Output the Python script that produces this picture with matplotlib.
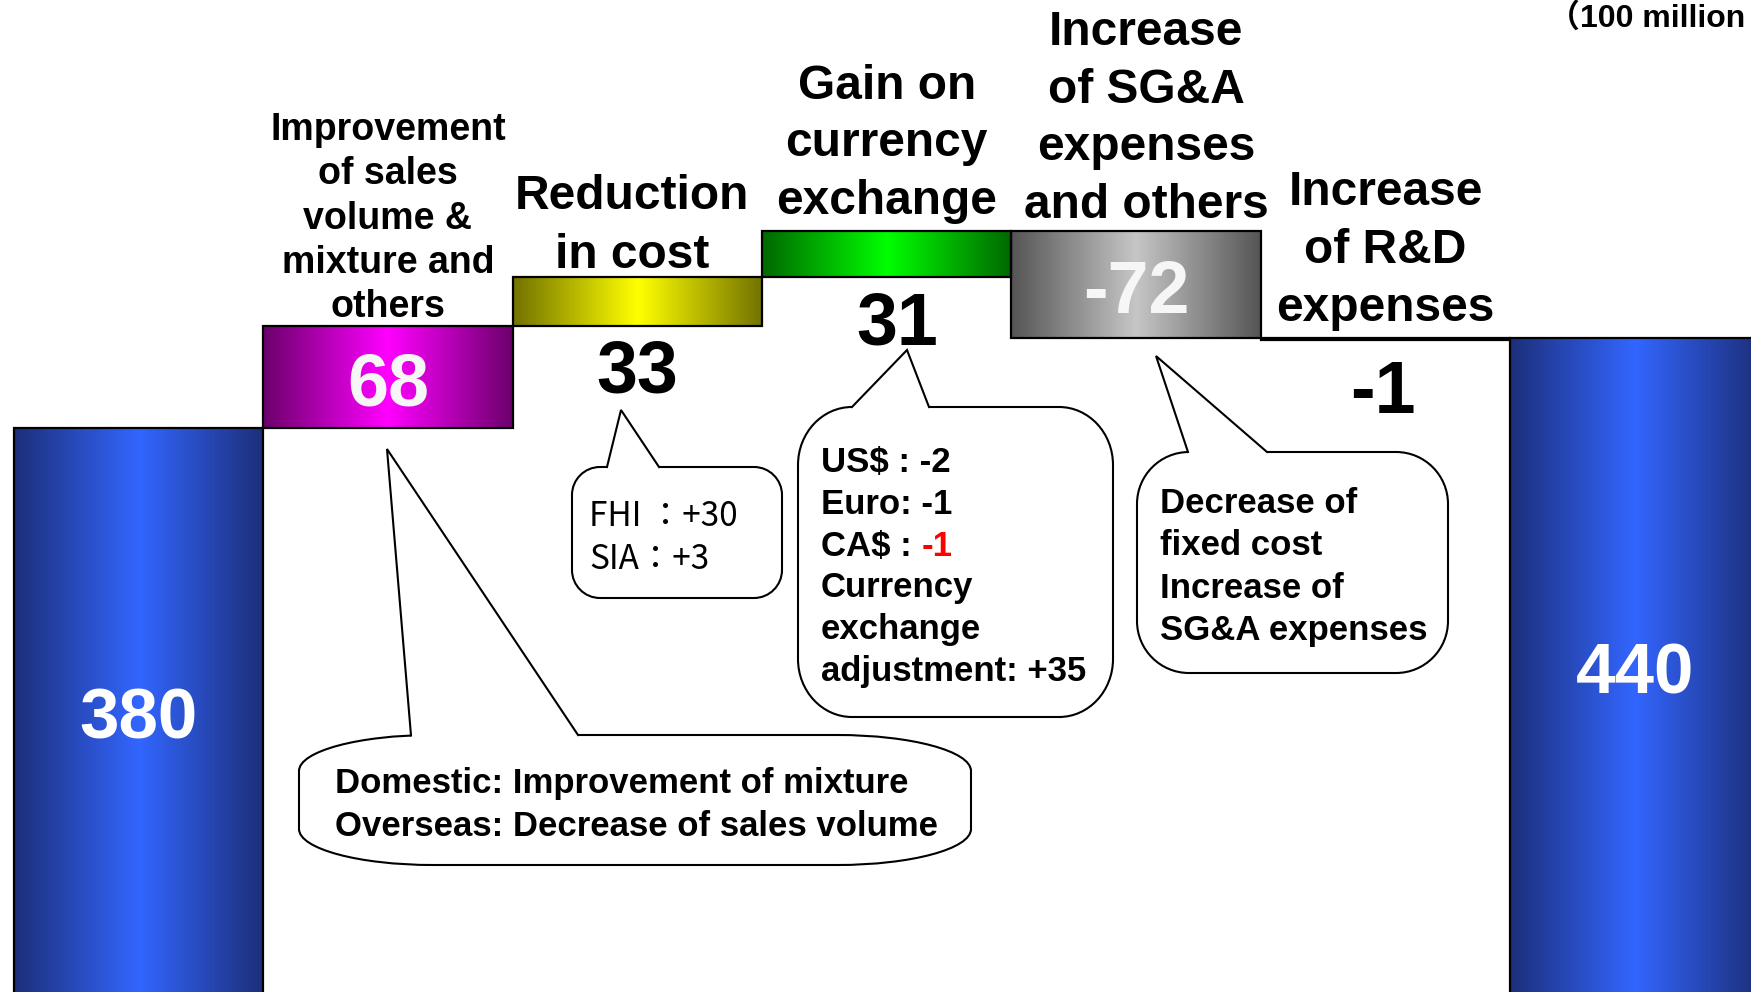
import numpy as np
import matplotlib
matplotlib.use('Agg')
import matplotlib.pyplot as plt
from matplotlib.patches import Rectangle, PathPatch, Polygon
from matplotlib.path import Path
from matplotlib.colors import LinearSegmentedColormap

# operating income bridge, in 100 million yen
categories = ['', 'Improvement\nof sales\nvolume &\nmixture and\nothers', 'Reduction\nin cost',
              'Gain on\ncurrency\nexchange', 'Increase\nof SG&A\nexpenses\nand others',
              'Increase\nof R&D\nexpenses', '']
values = [380, 68, 33, 31, -72, -1, 440]
value_labels = ['380', '68', '33', '31', '-72', '-1', '440']
is_total = [True, False, False, False, False, False, True]

edge_colors = ['#1c2f7a', '#6c006c', '#727200', '#006800', '#555555', '#555555', '#1c2f7a']
mid_colors = ['#3366ff', '#ff00ff', '#ffff00', '#00ff00', '#c6c6c6', '#c6c6c6', '#3366ff']

note_sales = 'Domestic: Improvement of mixture\nOverseas: Decrease of sales volume'
note_cost = 'FHI ：+30\nSIA：+3'
note_fx = ['US$ : -2', 'Euro: -1', 'CA$ : ', 'Currency', 'exchange', 'adjustment: +35']
note_fx_red = '-1'
note_sga = 'Decrease of\nfixed cost\nIncrease of\nSG&A expenses'
unit_text = '（100 million'

plt.rcParams['font.family'] = ['Liberation Sans', 'Noto Sans CJK JP', 'DejaVu Sans']

W, H = 1751, 992
fig = plt.figure(figsize=(W / 100, H / 100), dpi=100)
fig.patch.set_facecolor('white')

ax = fig.add_axes([0, 0, 1, 1])
ax.axis('off')

# running totals for the waterfall
lows, highs = [], []
running = 0
for v, tot in zip(values, is_total):
    if tot:
        lo, hi = 0, v
        running = v
    else:
        lo, hi = sorted((running, running + v))
        running += v
    lows.append(lo)
    highs.append(hi)

grad = np.linspace(0, 1, 256)[None, :]
for i in range(len(values)):
    cmap = LinearSegmentedColormap.from_list('g%d' % i, [edge_colors[i], mid_colors[i], edge_colors[i]])
    rect = Rectangle((i - 0.5, lows[i]), 1, highs[i] - lows[i], fill=False,
                     edgecolor='black', lw=1.6, zorder=3)
    ax.add_patch(rect)
    im = ax.imshow(grad, extent=(i - 0.5, i + 0.5, lows[i], highs[i]), aspect='auto',
                   cmap=cmap, interpolation='bilinear', zorder=2)
    im.set_clip_path(rect)

ax.set_xlim(-0.5553, 6.465)
ax.set_ylim(1.0, 667.2)

# value labels: inside the big bars, under the small steps
nudge = {3: (10, -1), 5: (-3, -7)}
for i, txt in enumerate(value_labels):
    dx, dy = nudge.get(i, (0, 0))
    if is_total[i]:
        ax.annotate(txt, xy=(i, (lows[i] + highs[i]) / 2), xytext=(dx, -28 + dy),
                    textcoords='offset pixels', ha='center', va='baseline',
                    color='white', fontsize=51, fontweight='bold', zorder=5)
    elif abs(values[i]) > 50:
        ax.annotate(txt, xy=(i, (lows[i] + highs[i]) / 2), xytext=(dx, -28.5 + dy),
                    textcoords='offset pixels', ha='center', va='baseline',
                    color='#f6f6f6', fontsize=53, fontweight='bold', zorder=5)
    else:
        ax.annotate(txt, xy=(i, lows[i]), xytext=(dx, -66 + dy),
                    textcoords='offset pixels', ha='center', va='baseline',
                    color='black', fontsize=53, fontweight='bold', zorder=5)

# category headings above each step
label_size = [0, 27, 34.5, 34.5, 34.5, 34.5, 0]
label_ls = [0, 1.30, 1.42, 1.36, 1.36, 1.37, 0]
label_dx = [0, 0, -5, 0, 10, 0, 0]
label_gap = [0, 1, -1, 7, 3, 7, 0]
for i, lab in enumerate(categories):
    if not lab:
        continue
    ax.annotate(lab, xy=(i, highs[i]), xytext=(label_dx[i], label_gap[i]), textcoords='offset pixels',
                ha='center', va='bottom', multialignment='center', linespacing=label_ls[i],
                fontsize=label_size[i], fontweight='bold', color='black', zorder=5)

# overlay in pixel units for the speech bubbles
ov = fig.add_axes([0, 0, 1, 1])
ov.set_xlim(0, W)
ov.set_ylim(H, 0)
ov.axis('off')
ov.patch.set_alpha(0)

K = 0.5523


def bubble(a, x0, y0, x1, y1, rx, ry, tip, base):
    verts = [(x0 + rx, y0), (x1 - rx, y0),
             (x1 - rx + K * rx, y0), (x1, y0 + ry - K * ry), (x1, y0 + ry),
             (x1, y1 - ry),
             (x1, y1 - ry + K * ry), (x1 - rx + K * rx, y1), (x1 - rx, y1),
             (x0 + rx, y1),
             (x0 + rx - K * rx, y1), (x0, y1 - ry + K * ry), (x0, y1 - ry),
             (x0, y0 + ry),
             (x0, y0 + ry - K * ry), (x0 + rx - K * rx, y0), (x0 + rx, y0),
             (x0 + rx, y0)]
    codes = ([Path.MOVETO, Path.LINETO] + [Path.CURVE4] * 3 + [Path.LINETO] + [Path.CURVE4] * 3
             + [Path.LINETO] + [Path.CURVE4] * 3 + [Path.LINETO] + [Path.CURVE4] * 3 + [Path.CLOSEPOLY])
    a.add_patch(PathPatch(Path(verts, codes), fc='white', ec='black', lw=1.5, zorder=2))

    def top_y(x):
        if x < x0 + rx:
            t = (x0 + rx - x) / rx
        elif x > x1 - rx:
            t = (x - (x1 - rx)) / rx
        else:
            return y0
        return y0 + ry * (1 - np.sqrt(max(0.0, 1 - t * t)))

    b0, b1 = base
    y_0, y_1 = top_y(b0), top_y(b1)
    a.add_patch(Polygon([(b0, y_0 + 5), (b0, y_0), tip, (b1, y_1), (b1, y_1 + 5)],
                        closed=True, fc='white', ec='none', zorder=3))
    a.plot([b0, tip[0], b1], [y_0, tip[1], y_1], color='black', lw=1.5, zorder=4,
           solid_joinstyle='miter')


bubble(ov, 299, 735, 971, 865, 134, 36, (387, 449), (411, 578))
bubble(ov, 572, 467, 782, 598, 28, 28, (621, 410), (607, 659))
bubble(ov, 798, 407, 1113, 717, 54, 58, (907, 350), (852, 929))
bubble(ov, 1137, 452, 1448, 673, 52, 52, (1156, 356), (1188, 1267))

note_font = dict(fontsize=25, fontweight='bold', color='black', zorder=6, linespacing=1.36)
ov.text(335, 805, note_sales, ha='left', va='center', **note_font)
ov.text(1160, 567, note_sga, ha='left', va='center', **note_font)
ov.text(589, 538, note_cost, ha='left', va='center', fontsize=24, color='black', zorder=6,
        linespacing=1.28, family=['Noto Sans CJK JP', 'DejaVu Sans'])

fx_lines = []
for k, line in enumerate(note_fx):
    fx_lines.append(ov.text(821, 459 + 41.8 * k, line, ha='left', va='center_baseline', **note_font))
ov.annotate(note_fx_red, xy=(1, 0), xycoords=fx_lines[2], ha='left', va='bottom',
            color='red', fontsize=25, fontweight='bold', zorder=6)

ov.text(1548, 27, unit_text, ha='left', va='baseline', fontsize=23, fontweight='bold',
        color='black', family=['Liberation Sans', 'Noto Sans CJK JP'])

fig.savefig('out.png', dpi=100)
